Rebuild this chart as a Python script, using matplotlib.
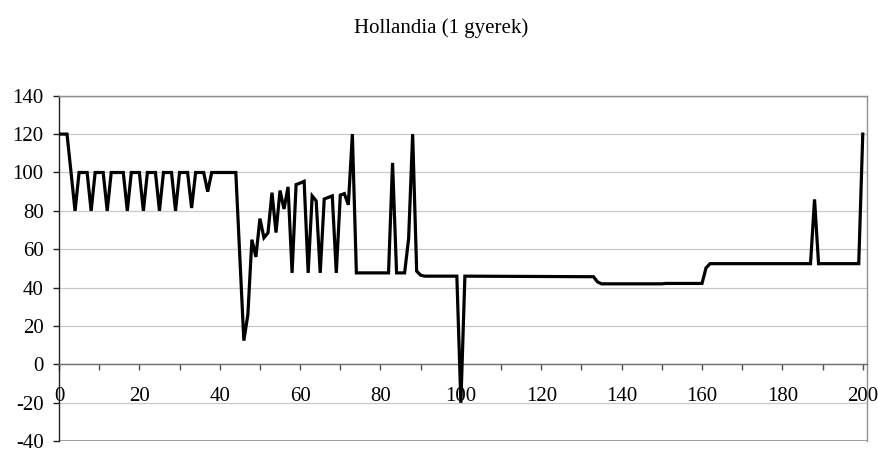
import matplotlib
matplotlib.use("Agg")
import matplotlib.pyplot as plt
from matplotlib.ticker import MultipleLocator

plt.rcParams['font.family'] = ['Liberation Serif', 'DejaVu Serif']
plt.rcParams['axes.unicode_minus'] = False

title = "Hollandia (1 gyerek)"

# vertices of the line (x, value)
x_pts = [0, 2, 3, 4, 5, 7, 8, 9, 11, 12, 13, 16, 17, 18, 20, 21, 22, 24, 25, 26,
         28, 29, 30, 32, 33, 34, 36, 37, 38, 44, 45, 46, 47, 48, 49, 50, 51, 52, 53, 54,
         55, 56, 57, 58, 59, 60, 61, 62, 63, 64, 65, 66, 67, 68, 69, 70, 71, 72, 73, 74,
         82, 83, 84, 86, 87, 88, 89, 90, 91, 99, 100, 101, 133, 134, 135, 150, 151, 160, 161, 162,
         187, 188, 189, 199, 200]
y_pts = [120, 120, 100, 80, 100, 100, 80, 100, 100, 80, 100, 100, 80, 100, 100, 80, 100, 100, 80, 100,
         100, 80, 100, 100, 81.5, 100, 100, 90, 100, 100, 56, 12.4, 26, 65, 56, 76, 66, 68.5, 89.5, 68.7,
         90.6, 81, 92.5, 47.7, 93.7, 94.5, 95.4, 47.7, 87.8, 85.2, 47.7, 86.2, 87, 87.8, 47.7, 88.2, 89, 83.2, 120, 47.7,
         47.7, 105, 47.7, 47.7, 65.6, 120, 48.6, 46.5, 46, 46, -20, 46, 45.7, 43, 42, 42, 42.2, 42.2, 50.3, 52.5,
         52.5, 86, 52.5, 52.5, 120]

y_ticks = [-40, -20, 0, 20, 40, 60, 80, 100, 120, 140]
x_ticks = [0, 20, 40, 60, 80, 100, 120, 140, 160, 180, 200]

fig = plt.figure(figsize=(8.79, 4.53), dpi=100)
ax = fig.add_axes([0.0671, 0.026, 0.919, 0.7627])

for yv in y_ticks:
    ax.axhline(yv, color='#c8c8c8', lw=0.9, zorder=1)
ax.axhline(140, color='#909090', lw=1.0, zorder=1)
ax.axhline(-40, color='#909090', lw=1.2, zorder=1)

ax.plot(x_pts, y_pts, color='black', lw=2.3, zorder=3, solid_joinstyle='miter')

ax.set_xlim(0, 201)
ax.set_ylim(-40, 140)
ax.set_yticks(y_ticks)
ax.set_xticks(x_ticks)
ax.xaxis.set_minor_locator(MultipleLocator(10))

ax.spines['bottom'].set_position(('data', 0))
ax.spines['bottom'].set_color('#707070')
ax.spines['left'].set_color('#202020')
ax.spines['top'].set_color('#909090')
ax.spines['right'].set_color('#909090')
for s in ax.spines.values():
    s.set_linewidth(1.0)

ax.tick_params(axis='y', direction='out', length=4, width=1, color='#202020',
               labelsize=15, pad=7)
ax.tick_params(axis='x', which='both', direction='out', length=4, width=1,
               color='#505050', labelsize=15, pad=12)

fig.text(0.502, 0.938, title, ha='center', va='center', fontsize=15)

fig.savefig('out.png', dpi=100)
